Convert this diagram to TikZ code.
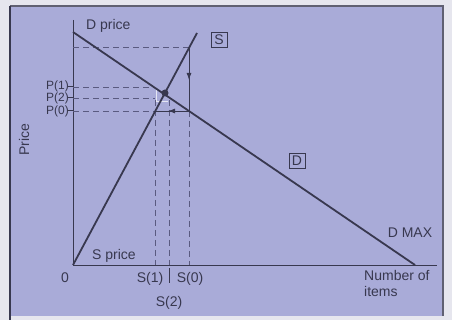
\documentclass[tikz,border=0pt]{standalone}
\usepackage{fontspec}
\setmainfont{Liberation Sans}
\usetikzlibrary{arrows.meta}
\definecolor{bg}{HTML}{A9ABD8}
\definecolor{outer}{HTML}{E6E6EE}
\definecolor{ink}{HTML}{38384F}
\definecolor{dash}{HTML}{5A5A80}
\tikzset{
  axis/.style={draw=ink, line width=1pt},
  curve/.style={draw=ink, line width=1.8pt},
  guide/.style={draw=dash, line width=0.8pt, dash pattern=on 6pt off 4pt},
  flow/.style={draw=ink, line width=0.9pt},
  lbl/.style={text=ink, font=\fontsize{14}{15}\selectfont, inner sep=1pt},
  plbl/.style={text=ink, font=\fontsize{12}{12}\selectfont, inner sep=0pt, anchor=east},
  tag/.style={lbl, draw=ink, line width=0.8pt, minimum width=16pt, minimum height=15pt, inner sep=1pt}
}
\begin{document}
\begin{tikzpicture}[x=1pt,y=-1pt]
\useasboundingbox (0,0) rectangle (452,320);
\fill[outer] (0,0) rectangle (452,320);
\fill[bg] (10,6) rectangle (443,316);
\draw[ink!80, line width=1.2pt] (10,6) -- (443,6) -- (443,316);
\draw[ink, line width=2pt] (10,6) -- (10,320);
% coordinates
\coordinate (O) at (73,265);
\coordinate (Ytop) at (73,20);
\coordinate (Xend) at (437,265);
\coordinate (Dtop) at (73,32);
\coordinate (Dmax) at (415,265);
\coordinate (Stop) at (197,33);
\coordinate (Ptop) at (73,47);
\coordinate (Qtop) at (189,47);
\coordinate (Qd) at (189,111);
\coordinate (Qmid) at (189,80);
\coordinate (P0) at (73,111);
\coordinate (S1p) at (155,111);
\coordinate (Lmid) at (168,111);
\coordinate (P1) at (73,87);
\coordinate (P1e) at (155,87);
\coordinate (P2) at (73,98);
\coordinate (P2e) at (155,98);
\coordinate (S1t) at (155,100);
\coordinate (S1b) at (155,265);
\coordinate (S2t) at (169,100);
\coordinate (S2b) at (169,265);
\coordinate (S0b) at (189,265);
\coordinate (Eq) at (165,93);
% axes
\draw[axis] (Ytop) -- (O) -- (Xend);
% guides
\draw[guide] (Ptop) -- (Qtop);
\draw[guide] (P1) -- (P1e);
\draw[guide] (P2) -- (P2e);
\draw[guide] (P0) -- (S1p);
\draw[guide] (S1t) -- (S1b);
\draw[guide] (S2t) -- (S2b);
\draw[guide] (Qd) -- (S0b);
% cobweb arrows
\draw[flow] (Qtop) -- (Qd);
\draw[flow, -{Latex[length=7pt,width=5pt]}] (Qtop) -- (Qmid);
\draw[flow] (Qd) -- (S1p);
\draw[flow, -{Latex[length=7pt,width=5pt]}] (Qd) -- (Lmid);
\draw[white!70!bg, line width=0.8pt] (156,89) -- (156,101) -- (168,101);
% curves
\draw[curve] (Dtop) -- (Dmax);
\draw[curve] (O) -- (Stop);
\fill[ink] (Eq) circle (3.5pt);
% ticks
\draw[axis] (68,87) -- (73,87);
\draw[axis] (68,98) -- (73,98);
\draw[axis] (68,111) -- (73,111);
\draw[ink, line width=0.8pt] (169,268) -- (169,283);
% labels
\node[lbl, anchor=west] (dprice) at (85,26) {D price};
\node[tag] (stag) at (219,40) {S};
\node[tag] (dtag) at (297,161) {D};
\node[plbl] (p1) at (69,86.5) {P(1)};
\node[plbl] (p2) at (69,98.5) {P(2)};
\node[plbl] (p0) at (69,111) {P(0)};
\node[lbl, rotate=90] (price) at (24,140) {Price};
\node[lbl] (zero) at (65,278) {0};
\node[lbl, anchor=west] (sprice) at (91,256) {S price};
\node[lbl] (s1) at (150,279) {S(1)};
\node[lbl] (s0) at (190,279) {S(0)};
\node[lbl] (s2) at (169,303) {S(2)};
\node[lbl] (dmax) at (410,233) {D MAX};
\node[lbl, anchor=north west, align=left, font=\fontsize{14}{16}\selectfont] (items) at (363,269) {Number of\\items};
\end{tikzpicture}
\end{document}
